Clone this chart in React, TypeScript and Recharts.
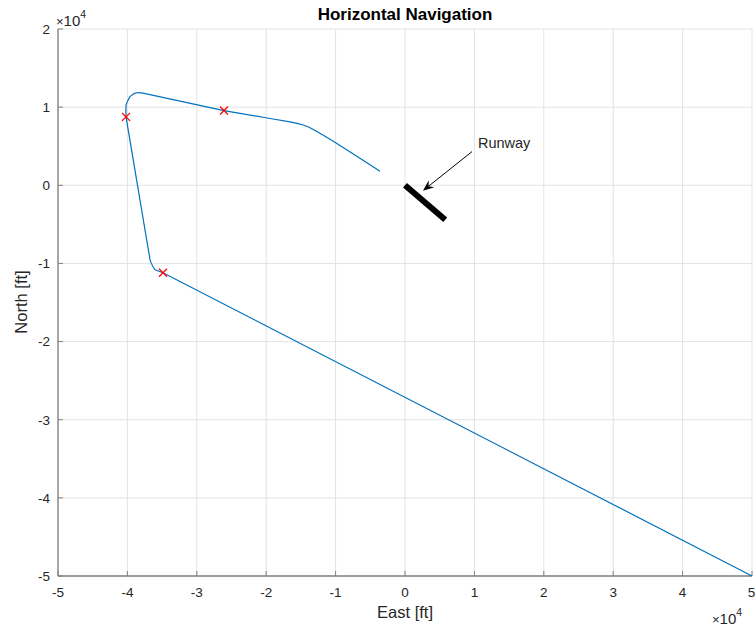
import { CartesianGrid, ReferenceLine, Scatter, ScatterChart, XAxis, YAxis } from "recharts";

// flight path, feet (East, North), in flown order
const pathEast = [
  50000, -34870, -36020, -36310, -36600, -36740, -40200, -40220, -40200, -39900, -39630,
  -39050, -38470, -37750, -26080, -19450, -16570, -15400, -14650, -13900, -13210, -11770,
  -10330, -7450, -3600,
];
const pathNorth = [
  -50000, -11190, -10810, -10420, -9900, -9520, 8750, 9600, 10300, 10900, 11350,
  11740, 11870, 11800, 9560, 8550, 8110, 7900, 7720, 7460, 7130, 6400,
  5630, 4010, 1790,
];

// waypoint markers
const wpEast = [-34870, -40200, -26080];
const wpNorth = [-11190, 8750, 9560];

// runway and annotation arrow
const runwayEast = [0, 5800];
const runwayNorth = [0, -4400];
const arrowEast = [9650, 2590];
const arrowNorth = [4310, -690];

const xTicks = [-50000, -40000, -30000, -20000, -10000, 0, 10000, 20000, 30000, 40000, 50000];
const yTicks = [-50000, -40000, -30000, -20000, -10000, 0, 10000, 20000];

const path = pathEast.map((x, i) => ({ x, y: pathNorth[i] }));
const waypoints = wpEast.map((x, i) => ({ x, y: wpNorth[i] }));

const FONT = '"Liberation Sans", Arial, Helvetica, sans-serif';
const AXIS = "#808080";
const TEXT = "#262626";

const fmt = (v: number) => String(v / 10000);

const Cross = (p: any) => {
  const { cx, cy } = p;
  const s = 4;
  return (
    <g stroke="#ff0000" strokeWidth={1.3}>
      <line x1={cx - s} y1={cy - s} x2={cx + s} y2={cy + s} />
      <line x1={cx - s} y1={cy + s} x2={cx + s} y2={cy - s} />
    </g>
  );
};

const Arrow = (p: any) => {
  const { x1, y1, x2, y2 } = p;
  const a = Math.atan2(y2 - y1, x2 - x1);
  const c = Math.cos(a);
  const s = Math.sin(a);
  const L = 11;
  const W = 4.5;
  const bx = x2 - L * c;
  const by = y2 - L * s;
  const nx = x2 - L * 0.65 * c;
  const ny = y2 - L * 0.65 * s;
  const pts = [
    [x2, y2],
    [bx - W * s, by + W * c],
    [nx, ny],
    [bx + W * s, by - W * c],
  ]
    .map((q) => q.join(","))
    .join(" ");
  return (
    <g>
      <line x1={x1} y1={y1} x2={nx} y2={ny} stroke="#000" strokeWidth={1} />
      <polygon points={pts} fill="#000" />
      <text x={x1 + 6} y={y1 - 4} fontSize={14.5} fill={TEXT} fontFamily={FONT}>
        Runway
      </text>
    </g>
  );
};

const App = () => {
  const tickStyle = { fontSize: 13.5, fill: TEXT, fontFamily: FONT };
  return (
    <div style={{ position: "absolute", left: 0, top: 0, width: 755, height: 627, background: "#fff" }}>
      <ScatterChart width={755} height={627} margin={{ top: 29, right: 3, left: 0, bottom: 0 }}>
        <CartesianGrid xAxisId="b" yAxisId="l" stroke="#e3e3e3" strokeWidth={1} />
        <XAxis
          xAxisId="b"
          type="number"
          dataKey="x"
          domain={[-50000, 50000]}
          ticks={xTicks}
          tickFormatter={fmt}
          height={51}
          tickSize={-5}
          tickMargin={16}
          tick={tickStyle}
          axisLine={{ stroke: AXIS, strokeWidth: 1.3 }}
          tickLine={{ stroke: AXIS }}
        />
        <XAxis
          xAxisId="t"
          orientation="top"
          type="number"
          domain={[-50000, 50000]}
          ticks={xTicks}
          height={0}
          tickSize={-5}
          tick={false}
          axisLine={{ stroke: AXIS, strokeWidth: 1.3 }}
          tickLine={{ stroke: AXIS }}
        />
        <YAxis
          yAxisId="l"
          type="number"
          dataKey="y"
          domain={[-50000, 20000]}
          ticks={yTicks}
          tickFormatter={fmt}
          width={58}
          tickSize={-5}
          tickMargin={13}
          tick={tickStyle}
          axisLine={{ stroke: AXIS, strokeWidth: 1.3 }}
          tickLine={{ stroke: AXIS }}
        />
        <YAxis
          yAxisId="r"
          orientation="right"
          type="number"
          domain={[-50000, 20000]}
          ticks={yTicks}
          width={0}
          tickSize={-5}
          tick={false}
          axisLine={{ stroke: AXIS, strokeWidth: 1.3 }}
          tickLine={{ stroke: AXIS }}
        />
        <Scatter
          xAxisId="b"
          yAxisId="l"
          data={path}
          line={{ stroke: "#0072BD", strokeWidth: 1.2 }}
          shape={() => <g />}
          isAnimationActive={false}
        />
        <Scatter xAxisId="b" yAxisId="l" data={waypoints} shape={Cross} isAnimationActive={false} />
        <ReferenceLine
          xAxisId="b"
          yAxisId="l"
          segment={[
            { x: runwayEast[0], y: runwayNorth[0] },
            { x: runwayEast[1], y: runwayNorth[1] },
          ]}
          stroke="#000"
          strokeWidth={6}
        />
        <ReferenceLine
          xAxisId="b"
          yAxisId="l"
          segment={[
            { x: arrowEast[0], y: arrowNorth[0] },
            { x: arrowEast[1], y: arrowNorth[1] },
          ]}
          shape={Arrow}
        />
      </ScatterChart>
      <svg
        width={755}
        height={627}
        style={{ position: "absolute", left: 0, top: 0, pointerEvents: "none" }}
        fontFamily={FONT}
        fill={TEXT}
      >
        <text x={405} y={20} textAnchor="middle" fontSize={17} fontWeight="bold" fill="#000">
          Horizontal Navigation
        </text>
        <text x={405} y={618} textAnchor="middle" fontSize={16.5}>
          East [ft]
        </text>
        <text transform="translate(27,302) rotate(-90)" textAnchor="middle" fontSize={16.5}>
          North [ft]
        </text>
        <text x={56} y={26} fontSize={15}>
          <tspan fontSize={13}>×</tspan>10
          <tspan dy={-8} fontSize={10.5}>4</tspan>
        </text>
        <text x={712} y={624} fontSize={15}>
          <tspan fontSize={13}>×</tspan>10
          <tspan dy={-8} fontSize={10.5}>4</tspan>
        </text>
      </svg>
    </div>
  );
};

export default App;
